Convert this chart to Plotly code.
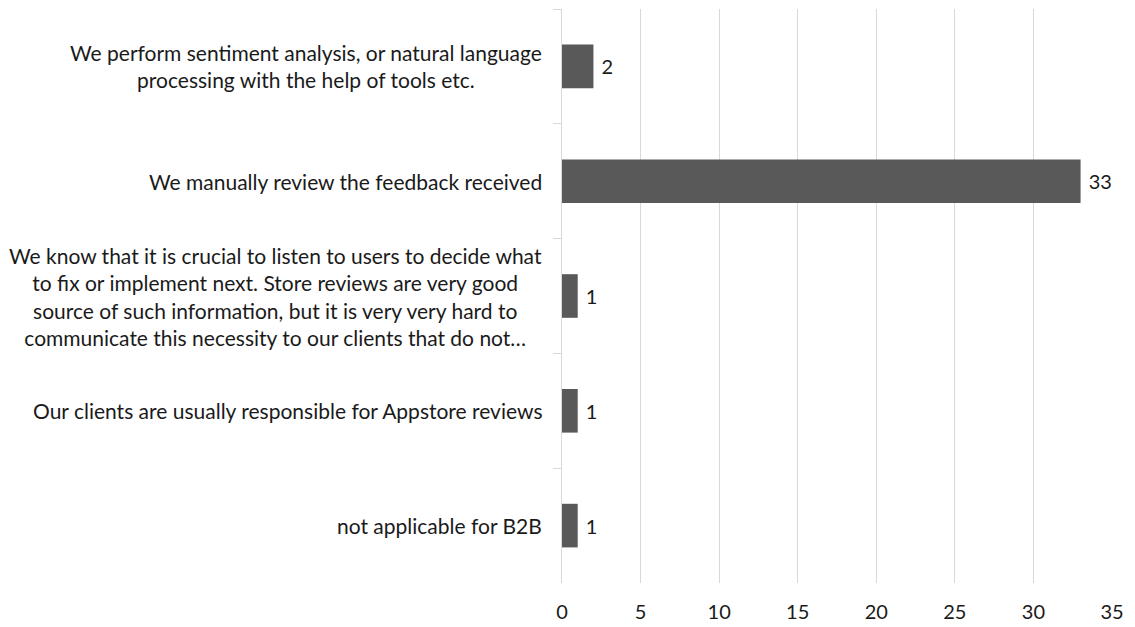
import plotly.graph_objects as go

categories = [
    "We perform sentiment analysis, or natural language<br>processing with the help of tools etc.",
    "We manually review the feedback received",
    "We know that it is crucial to listen to users to decide what<br>to fix or implement next. Store reviews are very good<br>source of such information, but it is very very hard to<br>communicate this necessity to our clients that do not…",
    "Our clients are usually responsible for Appstore reviews",
    "not applicable for B2B",
]
values = [2, 33, 1, 1, 1]
x_ticks = [0, 5, 10, 15, 20, 25, 30, 35]

FONT = "Lato"
FS = 21
fig = go.Figure()
fig.add_trace(go.Bar(
    y=categories, x=values, orientation="h",
    marker=dict(color="#595959", line=dict(width=0)),
    text=[f" {v}" for v in values], textposition="outside",
    textfont=dict(family=FONT, size=FS - 1, color="#1a1a1a"),
    cliponaxis=False,
))
for c in categories:
    fig.add_annotation(
        x=0, xref="paper", y=c, yref="y", xanchor="right", yanchor="middle",
        xshift=-18, text=c, showarrow=False, align="center",
        font=dict(family=FONT, size=FS, color="#1a1a1a"),
    )
fig.update_layout(
    width=1127, height=619,
    margin=dict(l=554, r=23, t=1, b=44),
    plot_bgcolor="white", paper_bgcolor="white",
    bargap=0.62, showlegend=False,
    font=dict(family=FONT, size=FS, color="#1a1a1a"),
)
fig.update_xaxes(
    range=[0, 35], tickvals=x_ticks, showgrid=True, gridcolor="#d9d9d9",
    gridwidth=1, zeroline=False, showline=False, ticks="",
    ticklabelstandoff=15,
    tickfont=dict(family=FONT, size=FS - 1, color="#1a1a1a"),
)
fig.update_yaxes(
    autorange="reversed", showticklabels=False, showline=True,
    linecolor="#d9d9d9", linewidth=1, ticks="outside", ticklen=8,
    tickcolor="#d9d9d9", tickson="boundaries", showgrid=False,
)
fig.write_html("out.html")
